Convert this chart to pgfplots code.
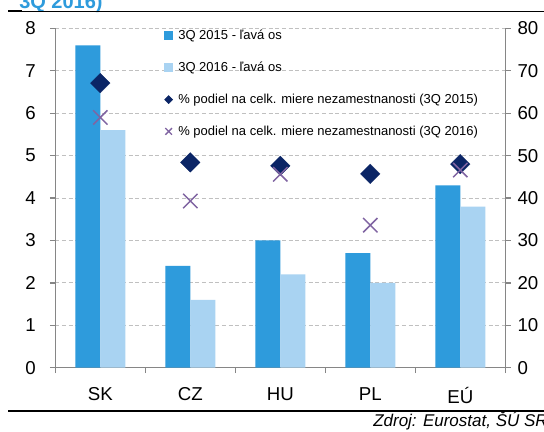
\documentclass[border=0pt]{standalone}
\usepackage{pgfplots}
\pgfplotsset{compat=1.18}
\usepackage{fontspec}
\setmainfont{Liberation Sans}
\definecolor{cA}{HTML}{2E9BDC}
\definecolor{cB}{HTML}{A9D3F2}
\definecolor{cD}{HTML}{0B2566}
\definecolor{cX}{HTML}{8064A2}
\definecolor{axg}{HTML}{868686}
\definecolor{grd}{HTML}{C0C0C0}
\definecolor{ttl}{HTML}{2E9BDC}
\begin{document}
\begin{tikzpicture}[x=0.75pt,y=0.75pt]
\path[use as bounding box] (0,0) rectangle (544,432);
\clip (0,0) rectangle (544,432);
\fill[white] (0,0) rectangle (544,432);
\node[anchor=base west, inner sep=0pt, text=ttl, font=\fontsize{15}{18}\selectfont\bfseries] at (19,423.5) {3Q 2016)};
\draw[black, line width=1pt] (8,420.5) -- (544,420.5);
\draw[black, line width=1.6pt] (8,421) -- (22,421);
\draw[black, line width=1.6pt] (8,21) -- (544,21);
\node[anchor=base east, inner sep=0pt, font=\fontsize{12.75}{15}\selectfont\itshape] at (548,5.5) {Zdroj: Eurostat, ŠÚ SR};
\begin{axis}[
  at={(41.475pt,48.225pt)}, anchor=south west,
  scale only axis, width=337.5pt, height=254.5pt,
  xmin=-0.5, xmax=4.5, ymin=0, ymax=8,
  axis x line*=bottom, axis y line*=left,
  axis line style={draw=axg, line width=1pt},
  tick style={draw=axg, line width=1pt},
  tick align=outside, major tick length=4pt,
  xtick={-0.5,0.5,1.5,2.5,3.5,4.5}, xticklabels={},
  extra x ticks={0,1,2,3,4},
  extra x tick labels={SK,CZ,HU,PL,EÚ},
  extra x tick style={major tick length=0pt},
  xticklabel style={font=\fontsize{14}{16}\selectfont, inner sep=0pt, anchor=north, yshift=-14.5pt},
  ytick={0,1,...,8},
  yticklabel style={font=\fontsize{14}{16}\selectfont, inner sep=0pt, anchor=east, xshift=-10.5pt},
  /pgf/number format/assume math mode=true,
  ymajorgrids, grid style={draw=grd, line width=0.8pt, dash pattern=on 3pt off 2pt},
  ybar=0pt, bar width=18.75pt,
]
\addplot[fill=cA, draw=none] coordinates {(0,7.6) (1,2.4) (2,3.0) (3,2.7) (4,4.3)};
\addplot[fill=cB, draw=none] coordinates {(0,5.6) (1,1.6) (2,2.2) (3,2.0) (4,3.8)};
\end{axis}
\begin{axis}[
  at={(41.475pt,48.225pt)}, anchor=south west,
  scale only axis, width=337.5pt, height=254.5pt,
  xmin=-0.5, xmax=4.5, ymin=0, ymax=80,
  axis x line=none, axis y line*=right,
  axis line style={draw=axg, line width=1pt},
  tick style={draw=axg, line width=1pt},
  tick align=outside, major tick length=4pt,
  ytick={0,10,...,80},
  yticklabel style={font=\fontsize{14}{16}\selectfont, inner sep=0pt, anchor=west, xshift=5pt},
  /pgf/number format/assume math mode=true,
  legend style={at={(0.233,1.008)}, anchor=north west, draw=none, fill=none,
    font=\fontsize{9.75}{11}\selectfont, row sep=13.3pt, column sep=3pt,
    nodes={inner sep=1pt}},
  legend cell align=left,
]
\addlegendimage{legend image code/.code={\fill[cA] (0pt,-3pt) rectangle (6pt,3pt);}}
\addlegendentry{3Q 2015 - ľavá os}
\addlegendimage{legend image code/.code={\fill[cB] (0pt,-3pt) rectangle (6pt,3pt);}}
\addlegendentry{3Q 2016 - ľavá os}
\addplot[only marks, mark=square*, mark size=5.2pt, mark options={rotate=45, fill=cD, draw=cD, line width=0.2pt},
  legend image code/.code={\fill[cD] (3pt,-3pt) -- (6pt,0pt) -- (3pt,3pt) -- (0pt,0pt) -- cycle;}]
  coordinates {(0,67.1) (1,48.4) (2,47.6) (3,45.7) (4,48.0)};
\addlegendentry{\% podiel na celk. miere nezamestnanosti (3Q 2015)}
\addplot[only marks, mark=x, mark size=7.6pt, mark options={draw=cX, line width=1.1pt},
  legend image code/.code={\draw[cX, line width=1pt] (0.5pt,-2.5pt) -- (5.5pt,2.5pt) (0.5pt,2.5pt) -- (5.5pt,-2.5pt);}]
  coordinates {(0,59.0) (1,39.3) (2,45.6) (3,33.6) (4,46.6)};
\addlegendentry{\% podiel na celk. miere nezamestnanosti (3Q 2016)}
\end{axis}
\end{tikzpicture}
\end{document}
